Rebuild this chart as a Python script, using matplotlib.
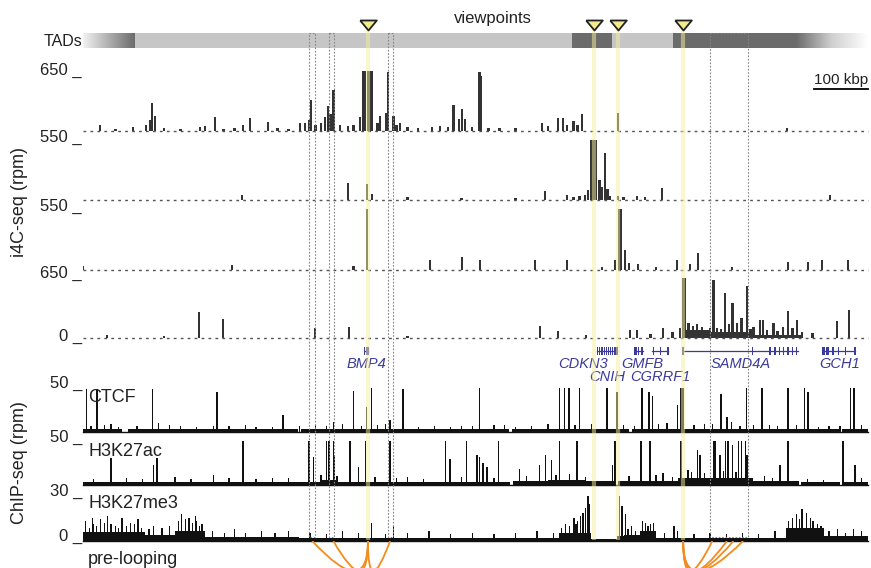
import numpy as np
import matplotlib
matplotlib.use("Agg")
import matplotlib.pyplot as plt
from matplotlib.patches import Rectangle, PathPatch
from matplotlib.path import Path
from matplotlib.colors import LinearSegmentedColormap
from matplotlib.transforms import blended_transform_factory

plt.rcParams['font.family'] = ['Liberation Sans', 'DejaVu Sans']

# ---- data (positions in kb from left edge of the window) ----
region_kb = 1452
viewpoints = [527, 945, 990, 1110]          # BMP4, CDKN3, CNIH, SAMD4A
dashed_boxes = [(418, 429), (455, 464), (564, 574), (1160, 1230)]

tad_light = [(96, 904), (979, 1091)]
tad_dark = [(904, 979), (1091, 1319)]
tad_fade_in = (0, 96)
tad_fade_out = (1319, 1452)

# i4C-seq (rpm), (position, value)
i4c_bmp4 = [(31, 65), (60, 25), (93, 43), (117, 65), (124, 120), (128, 300), (133, 160),
            (150, 30), (180, 20), (216, 43), (226, 54), (244, 150), (260, 25), (280, 35),
            (296, 65), (309, 140), (342, 97), (360, 30), (380, 25), (401, 86), (411, 86),
            (418, 120), (422, 335), (430, 60), (440, 90), (448, 150), (453, 270), (458, 180),
            (463, 445), (475, 60), (490, 50), (500, 60), (512, 150), (518, 650), (522, 650),
            (527, 650), (531, 650), (535, 650), (545, 90), (549, 160), (560, 200), (564, 640),
            (574, 160), (580, 70), (586, 86), (600, 40), (620, 30), (646, 43), (660, 50),
            (675, 43), (685, 280), (695, 130), (701, 240), (707, 130), (720, 40), (733, 640),
            (736, 600), (750, 30), (770, 30), (800, 30), (849, 86), (860, 50), (879, 140),
            (888, 140), (895, 60), (907, 108), (915, 60), (923, 185), (990, 195), (1302, 32)]
i4c_cdkn3 = [(294, 46), (490, 156), (525, 147), (535, 55), (600, 25), (700, 20), (800, 20),
             (855, 83), (895, 46), (907, 30), (918, 35), (929, 46), (934, 92), (940, 550),
             (944, 550), (948, 550), (955, 184), (960, 120), (966, 430), (970, 100), (975, 40),
             (990, 37), (1000, 30), (1025, 37), (1040, 25), (1071, 110), (1382, 46)]
i4c_cnih = [(0, 37), (276, 46), (500, 37), (525, 550), (642, 92), (701, 120), (734, 92),
            (836, 92), (895, 92), (960, 30), (984, 92), (991, 550), (995, 550), (1003, 184),
            (1010, 60), (1027, 55), (1060, 30), (1099, 92), (1123, 55), (1138, 156),
            (1200, 25), (1304, 74), (1341, 74), (1367, 92), (1415, 92)]
i4c_samd4a = [(44, 32), (150, 20), (215, 280), (259, 205), (429, 108), (492, 119), (600, 20),
              (845, 130), (879, 75), (930, 30), (1012, 86), (1025, 86), (1050, 40), (1073, 108),
              (1090, 60), (1104, 108), (1110, 650), (1114, 650), (1120, 160), (1128, 130),
              (1136, 150), (1145, 120), (1154, 90), (1160, 110), (1166, 625), (1173, 108),
              (1180, 100), (1188, 485), (1195, 150), (1201, 378), (1210, 160), (1218, 216),
              (1228, 560), (1235, 100), (1240, 120), (1252, 194), (1258, 200), (1265, 90),
              (1277, 160), (1285, 80), (1295, 120), (1304, 290), (1312, 110), (1321, 194),
              (1330, 60), (1349, 54), (1395, 184), (1417, 300)]
i4c_samd4a_domains = [(1110, 1160, 90), (1160, 1240, 60), (1240, 1330, 35)]
i4c_max = [650, 550, 550, 650]
i4c_tick_labels = ["650 _", "550 _", "550 _", "650 _", "0 _"]

# genes
gene_names = ["BMP4", "CDKN3", "CNIH", "GMFB", "CGRRF1", "SAMD4A", "GCH1"]
gene_start = [521, 951, 975, 1021, 1053, 1110, 1369]
gene_end = [528, 973, 988, 1036, 1082, 1323, 1428]
gene_exons = [[521, 524, 527],
              [952, 956, 960, 964, 968, 972],
              [976, 980, 984, 988],
              [1021, 1024, 1027, 1034],
              [1055, 1068, 1082],
              [1110, 1238, 1271, 1280, 1288, 1296, 1304, 1312, 1320],
              [1369, 1372, 1375, 1378, 1387, 1397, 1410, 1428]]
gene_label_x = [524, 925, 969, 1034, 1068, 1216, 1399]
gene_label_row = [0, 0, 1, 0, 1, 0, 0]

# ChIP-seq (rpm)
ctcf = [(7, 45), (26, 45), (52, 8), (128, 45), (160, 7), (241, 6), (248, 42), (320, 5),
        (370, 18), (400, 6), (463, 10), (500, 43), (525, 26), (533, 46), (560, 8), (568, 12),
        (592, 45), (620, 5), (700, 6), (734, 46), (760, 7), (800, 5), (860, 8), (881, 46),
        (890, 46), (899, 46), (918, 46), (940, 8), (969, 46), (988, 42), (1000, 7), (1034, 46),
        (1047, 42), (1053, 37), (1080, 9), (1099, 28), (1106, 46), (1110, 46), (1150, 8),
        (1180, 40), (1191, 16), (1200, 10), (1227, 46), (1256, 46), (1270, 7), (1304, 46),
        (1334, 46), (1341, 42), (1380, 6), (1419, 46), (1426, 46),
        (15, 6), (40, 7), (66, 5), (100, 6), (140, 9), (180, 6), (210, 5), (270, 6), (300, 7),
        (350, 5), (430, 7), (450, 6), (480, 8), (515, 6), (545, 7), (650, 6), (680, 5),
        (720, 6), (780, 7), (830, 6), (910, 7), (1020, 6), (1065, 8), (1130, 7), (1165, 8),
        (1215, 6), (1240, 7), (1285, 6), (1320, 7), (1360, 5), (1400, 6), (1440, 7)]
ctcf_domains = [(0, 72, 3.5), (83, 398, 3.5), (404, 788, 3.5), (793, 1010, 3.5),
                (1015, 1400, 3.5), (1404, 1452, 3.5)]
h3k27ac = [(52, 28), (130, 21), (137, 28), (241, 10), (296, 46), (350, 7), (418, 46), (426, 29),
           (440, 10), (451, 46), (455, 46), (463, 46), (464, 31), (494, 46), (509, 19), (522, 46),
           (568, 46), (600, 8), (670, 46), (679, 27), (709, 46), (729, 31), (734, 29), (740, 23),
           (747, 19), (768, 46), (808, 17), (845, 21), (855, 31), (866, 26), (882, 46), (914, 46),
           (979, 21), (984, 46), (1032, 46), (1049, 46), (1073, 12), (1106, 46), (1119, 16),
           (1136, 36), (1141, 31), (1166, 46), (1169, 46), (1178, 31), (1188, 46), (1193, 46),
           (1201, 42), (1212, 46), (1218, 46), (1225, 46), (1228, 31), (1289, 21), (1304, 46),
           (1406, 46), (1428, 21),
           (20, 6), (80, 7), (110, 6), (170, 8), (200, 6), (270, 7), (320, 6), (380, 7),
           (470, 9), (540, 8), (580, 7), (630, 6), (700, 8), (760, 7), (820, 9), (875, 10),
           (900, 11), (930, 8), (1010, 9), (1060, 10), (1090, 8), (1125, 14), (1150, 13),
           (1185, 15), (1208, 14), (1260, 9), (1275, 7), (1340, 6), (1370, 5), (1440, 7)]
h3k27ac_domains = [(0, 790, 3.5), (440, 470, 5.5), (860, 930, 5.5), (795, 985, 4),
                   (990, 1100, 4), (1100, 1240, 7), (1240, 1324, 4), (1328, 1400, 3),
                   (1404, 1452, 3.5)]
h3k27me3 = [(20, 10), (40, 11), (60, 9), (95, 10), (160, 9), (190, 13), (210, 12), (220, 10),
            (533, 11), (574, 9), (915, 12), (925, 17), (929, 20), (934, 27), (937, 22), (993, 27),
            (997, 21), (1003, 16), (1040, 11), (1050, 10), (1093, 9), (1320, 16), (1330, 19),
            (1338, 17), (1345, 14),
            (5, 12), (12, 8), (18, 14), (25, 9), (32, 13), (45, 15), (52, 10), (66, 8), (72, 14),
            (80, 9), (88, 11), (102, 13), (108, 8), (122, 7), (130, 9), (146, 8), (176, 12),
            (182, 16), (196, 14), (202, 11), (208, 15), (216, 9), (240, 6), (262, 5), (280, 7),
            (300, 5), (330, 6), (355, 5), (380, 6), (420, 5), (450, 4), (480, 6), (510, 5),
            (560, 4), (600, 5), (640, 6), (680, 4), (720, 5), (760, 4), (800, 5), (840, 6),
            (870, 5), (885, 8), (892, 10), (900, 9), (908, 14), (912, 10), (920, 15),
            (1008, 7), (1015, 9), (1022, 6), (1035, 12), (1045, 9), (1055, 11), (1075, 5),
            (1100, 6), (1130, 4), (1160, 5), (1190, 4), (1220, 5), (1250, 4), (1280, 6),
            (1305, 12), (1312, 14), (1325, 13), (1350, 12), (1358, 10), (1365, 9), (1380, 6),
            (1395, 7), (1410, 5), (1425, 7), (1440, 6)]
h3k27me3_domains = [(0, 115, 5.5), (115, 170, 3.5), (170, 225, 6), (225, 400, 2.5),
                    (400, 880, 2), (880, 940, 5), (940, 988, 1.2), (988, 1000, 3),
                    (1000, 1030, 3.5), (1030, 1060, 6), (1060, 1300, 2), (1300, 1370, 8),
                    (1370, 1452, 3)]
chip_names = ["CTCF", "H3K27ac", "H3K27me3"]
chip_max = [50, 50, 30]
chip_tick_labels = ["50 _", "50 _", "30 _", "0 _"]

# pre-looping contacts: viewpoint -> partners
arc_groups = [(527, [424, 463, 568]), (1110, [1164, 1191, 1203, 1221])]

# ---- figure ----
W, H = 871, 568
X0, X1 = 83, 868
fig = plt.figure(figsize=(W / 100, H / 100), dpi=100)

GENE_BLUE = '#3b3b9c'
TEXT = '#222222'


def track_ax(top, bottom, z=1):
    ax = fig.add_axes([X0 / W, 1 - bottom / H, (X1 - X0) / W, (bottom - top) / H], zorder=z)
    ax.set_xlim(0, region_kb)
    ax.axis('off')
    ax.patch.set_alpha(0)
    return ax


def ftext(x, y, s, **kw):
    kw.setdefault('color', TEXT)
    fig.text(x / W, 1 - y / H, s, **kw)


# TAD bar
ax = track_ax(33, 48)
for s, e in tad_light:
    ax.add_patch(Rectangle((s, 0), e - s, 1, color='#c6c6c6', lw=0))
for s, e in tad_dark:
    ax.add_patch(Rectangle((s, 0), e - s, 1, color='#6b6b6b', lw=0))
ramp = np.linspace(0, 1, 256).reshape(1, -1)
ax.imshow(ramp, extent=(tad_fade_in[0], tad_fade_in[1], 0, 1), aspect='auto',
          cmap=LinearSegmentedColormap.from_list('fin', ['#f2f2f2', '#6b6b6b']))
ax.imshow(ramp, extent=(tad_fade_out[0], tad_fade_out[1], 0, 1), aspect='auto',
          cmap=LinearSegmentedColormap.from_list('fout', ['#6b6b6b', '#d0d0d0', '#ffffff']))
ax.set_xlim(0, region_kb)
ax.set_ylim(0, 1)
ftext(82, 41, "TADs", ha='right', va='center', fontsize=11.5)
ftext(493, 18, "viewpoints", ha='center', va='center', fontsize=12)

# i4C tracks
i4c_data = [i4c_bmp4, i4c_cdkn3, i4c_cnih, i4c_samd4a]
i4c_rows = [(71, 131), (140, 200), (209, 270), (278, 338)]
for k, (data, ymax, (top, bot)) in enumerate(zip(i4c_data, i4c_max, i4c_rows)):
    ax = track_ax(top, bot)
    ax.set_ylim(0, ymax)
    ax.plot([0, region_kb], [0, 0], color='#555555', lw=1.0, dashes=(2, 3), clip_on=False)
    if k == 3:
        for s, e, v in i4c_samd4a_domains:
            ax.fill_between([s, e], 0, v, color='#333333', lw=0)
    pos, val = zip(*data)
    ax.bar(pos, val, width=4.5, color='#333333', linewidth=0)
    if k == 0:
        blend = blended_transform_factory(ax.transData, ax.transAxes)
        ax.plot([region_kb - 100, region_kb], [0.7, 0.7], color='k', lw=1.3,
                transform=blend, clip_on=False)
        ax.text(region_kb - 50, 0.85, "100 kbp", transform=blend, ha='center', va='center',
                fontsize=11, color=TEXT)
for lab, y in zip(i4c_tick_labels, [70, 137, 206, 273, 336]):
    ftext(82, y, lab, ha='right', va='center', fontsize=12)
ftext(20, 202, "i4C-seq (rpm)", rotation=90, ha='center', va='center', fontsize=13)

# genes
ax = track_ax(342, 384)
ax.set_ylim(384, 342)
for name, s, e, exons, lx, row in zip(gene_names, gene_start, gene_end, gene_exons,
                                        gene_label_x, gene_label_row):
    ax.plot([s, e], [351, 351], color=GENE_BLUE, lw=0.9)
    for ex in exons:
        ax.add_patch(Rectangle((ex - 1.2, 347), 2.4, 8, color=GENE_BLUE, lw=0))
    ax.text(lx, 364 + 13 * row, name, ha='center', va='center', fontsize=10.5,
            style='italic', color=GENE_BLUE)

# ChIP tracks
chip_data = [ctcf, h3k27ac, h3k27me3]
chip_domains = [ctcf_domains, h3k27ac_domains, h3k27me3_domains]
chip_rows = [(384, 432), (437, 485), (491, 541)]
chip_label_y = [397, 451, 504]
for data, doms, ymax, (top, bot), name, ly in zip(chip_data, chip_domains, chip_max,
                                                   chip_rows, chip_names, chip_label_y):
    ax = track_ax(top, bot)
    ax.set_ylim(0, ymax)
    for s, e, v in doms:
        ax.fill_between([s, e], 0, v, color='#111111', lw=0)
    pos, val = zip(*data)
    ax.bar(pos, val, width=2.4, color='#111111', linewidth=0)
    ax.plot([0, region_kb], [0, 0], color='#111111', lw=1.0, clip_on=False)
    ftext(88, ly, name, ha='left', va='center', fontsize=13)
for lab, y in zip(chip_tick_labels, [383, 437, 491, 536]):
    ftext(82, y, lab, ha='right', va='center', fontsize=12)
ftext(19, 463, "ChIP-seq (rpm)", rotation=90, ha='center', va='center', fontsize=13)

# arcs
ax = track_ax(541, 568)
ax.set_ylim(-27, 0)
for vp, partners in arc_groups:
    for p in partners:
        path = Path([(p, 0), (vp, -60), (vp, 0)], [Path.MOVETO, Path.CURVE3, Path.CURVE3])
        ax.add_patch(PathPatch(path, fc='none', ec='#f28c1c', lw=1.3))
ftext(88, 560, "pre-looping", ha='left', va='center', fontsize=13)

# overlay: viewpoint highlights and dashed boxes
ax = track_ax(15, 541, z=5)
ax.set_ylim(541, 15)
ax.vlines(viewpoints, 27, 540, color='#f6ee9c', lw=3, alpha=0.5)
for s, e in dashed_boxes:
    ax.add_patch(Rectangle((s, 33), e - s, 504, fill=False, ec='#858585', lw=0.8,
                           ls=(0, (1.5, 1.5))))
tri = [(-1, 0.6), (1, 0.6), (0, -0.6), (-1, 0.6)]
ax.plot(viewpoints, [25] * len(viewpoints), ls='none', marker=tri, ms=12,
        mfc='#f3ea8c', mec='#222222', mew=1.3, clip_on=False)

fig.savefig("out.png", dpi=100)
